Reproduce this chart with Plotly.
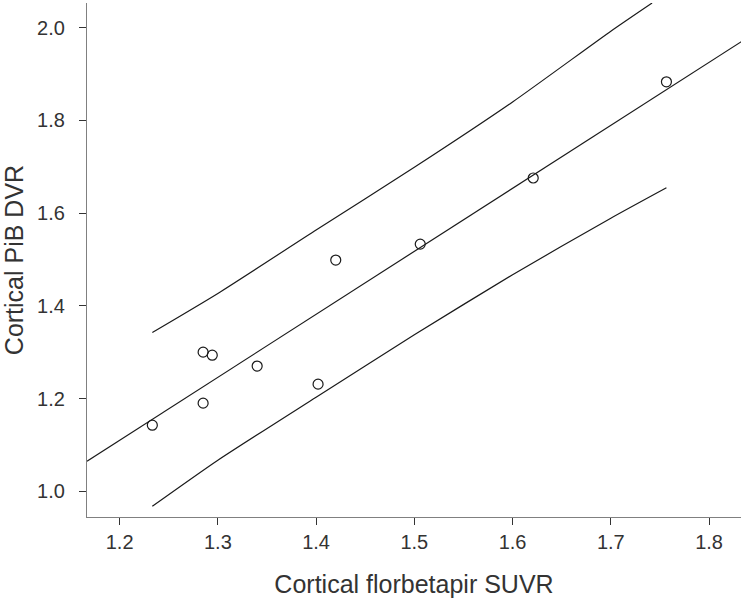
import plotly.graph_objects as go

# Observed points
suvr = [1.2333, 1.285, 1.2943, 1.285, 1.340, 1.402, 1.420, 1.506, 1.621, 1.7566]
pib_dvr = [1.1425, 1.300, 1.2935, 1.190, 1.270, 1.231, 1.4986, 1.533, 1.6756, 1.883]

# Regression line (end points)
fit_x = [1.1668, 1.833]
fit_y = [1.0648, 1.9698]

# Prediction band
upper_x = [1.2333, 1.30, 1.40, 1.50, 1.60, 1.70, 1.742]
band_upper = [1.3425, 1.4267, 1.5634, 1.6987, 1.8396, 1.9922, 2.053]
lower_x = [1.2333, 1.30, 1.40, 1.50, 1.60, 1.70, 1.7566]
band_lower = [0.9676, 1.0669, 1.2029, 1.3375, 1.4670, 1.5890, 1.6546]

x_ticks = [1.2, 1.3, 1.4, 1.5, 1.6, 1.7, 1.8]
y_ticks = [1.0, 1.2, 1.4, 1.6, 1.8, 2.0]

line_style = dict(color="#1a1a1a", width=1.2)

fig = go.Figure()
fig.add_trace(go.Scatter(x=fit_x, y=fit_y, mode="lines", line=line_style, hoverinfo="skip"))
fig.add_trace(go.Scatter(x=upper_x, y=band_upper, mode="lines",
                         line=dict(line_style, shape="spline", smoothing=0.6), hoverinfo="skip"))
fig.add_trace(go.Scatter(x=lower_x, y=band_lower, mode="lines",
                         line=dict(line_style, shape="spline", smoothing=0.6), hoverinfo="skip"))
fig.add_trace(go.Scatter(
    x=suvr, y=pib_dvr, mode="markers",
    marker=dict(symbol="circle-open", size=10, color="#1a1a1a", line=dict(width=1.2)),
    cliponaxis=False,
))

font_family = "Liberation Sans, Arial, sans-serif"
fig.update_layout(
    width=744, height=599,
    margin=dict(l=87, r=3, t=3, b=82),
    paper_bgcolor="white", plot_bgcolor="white",
    showlegend=False,
    font=dict(family=font_family, color="#333333", size=20),
    xaxis=dict(
        range=[1.1668, 1.8325], tickvals=x_ticks, ticktext=[f"{v:.1f}" for v in x_ticks],
        showgrid=False, zeroline=False, showline=True, linecolor="#808080", linewidth=1.3,
        ticks="outside", ticklen=7, tickcolor="#333333", tickwidth=1.3,
        tickfont=dict(size=20, color="#333333"), automargin=False,
        title=dict(text="Cortical florbetapir SUVR", font=dict(size=25, color="#333333"), standoff=23),
    ),
    yaxis=dict(
        range=[0.9445, 2.053], tickvals=y_ticks, ticktext=[f"{v:.1f}" for v in y_ticks],
        showgrid=False, zeroline=False, showline=True, linecolor="#808080", linewidth=1.3,
        ticks="outside", ticklen=7, tickcolor="#333333", tickwidth=1.3, ticklabelstandoff=10,
        tickfont=dict(size=20, color="#333333"), automargin=False,
        title=dict(text="Cortical PiB DVR", font=dict(size=25, color="#333333"), standoff=20),
    ),
)

fig.write_html(
    "out.html",
    config={"displayModeBar": False},
    post_script="document.body.style.margin='0';document.body.style.overflow='hidden';",
)
